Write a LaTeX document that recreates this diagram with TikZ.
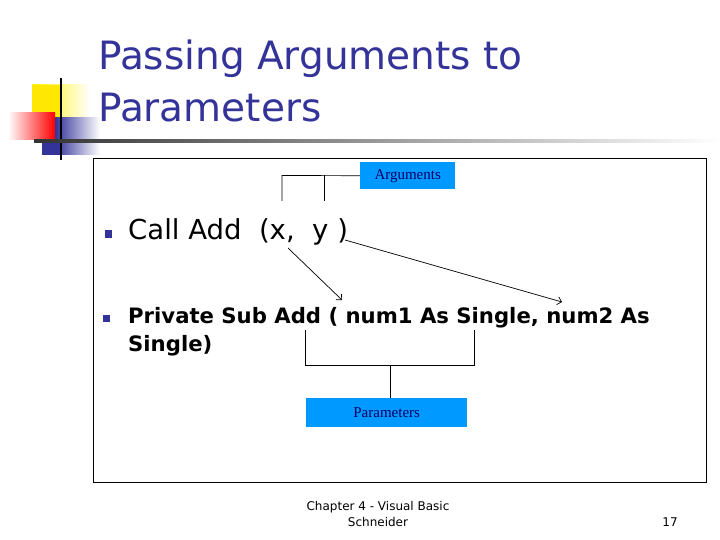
\documentclass[tikz,border=0pt]{standalone}
\usepackage{fontspec}
\setmainfont{DejaVu Sans}
\newfontfamily\serifb{Liberation Serif}
\usetikzlibrary{arrows.meta}
\definecolor{ttl}{RGB}{51,51,153}
\definecolor{lbl}{RGB}{0,153,255}
\definecolor{navy}{RGB}{0,0,102}
\tikzset{lbox/.style={fill=lbl,font=\serifb\fontsize{15}{18}\selectfont,text=navy,inner sep=0pt},
 ln/.style={line width=0.7pt},
 arr/.style={line width=0.7pt,-{Straight Barb[length=4pt]}},
 bul/.style={fill=ttl,minimum size=7pt,inner sep=0pt}}
\begin{document}
\begin{tikzpicture}[x=1pt,y=-1pt]
\useasboundingbox (0,0) rectangle (720,540);
\fill[white] (0,0) rectangle (720,540);
% logo
\shade[left color=yellow!90!orange,right color=white] (32,85) rectangle (90,118);
\fill[yellow!90!orange] (32,85) rectangle (60,118);
\shade[left color=white,right color=red] (8,113) rectangle (55,140);
\shade[left color=ttl,right color=white] (55,118) rectangle (100,155);
\fill[ttl] (42,140) rectangle (60,155);
\draw[line width=1.2pt] (61,78) -- (61,160);
\shade[left color=black!80,right color=white] (34,140) rectangle (720,142.5);
\node[anchor=north west,align=left,text=ttl,font=\fontsize{39}{52}\selectfont,inner sep=0pt] (title) at (98,40) {Passing Arguments to\\Parameters};
\draw[line width=0.8pt] (93,158) rectangle (706,482);
\node[lbox,minimum width=95pt,minimum height=27pt,anchor=north west] (args) at (360,162) {Arguments};
\coordinate (a1) at (282,201); \coordinate (a2) at (324,201);
\draw[ln] (args.west) -- (282,175.5) -- (a1);
\draw[ln] (324,175.5) -- (a2);
\node[bul] (b1) at (108,234) {};
\node[bul] (b2) at (106,318) {};
\node[anchor=base west,inner sep=0pt,font=\fontsize{27.5}{30}\selectfont] (call) at (128,240) {Call Add \ (x, \ y )};
\node[anchor=base west,inner sep=0pt,font=\bfseries\fontsize{21.2}{28}\selectfont] (priv) at (128,323) {Private Sub Add ( num1 As Single, num2 As};
\node[anchor=base west,inner sep=0pt,font=\bfseries\fontsize{21.2}{28}\selectfont] (priv2) at (128,351) {Single)};
\coordinate (x0) at (288,248); \coordinate (x1) at (342,300);
\coordinate (y0) at (345,240); \coordinate (y1) at (562,302);
\draw[arr] (x0) -- (x1);
\draw[arr] (y0) -- (y1);
\node[lbox,minimum width=161pt,minimum height=29pt,anchor=north west] (pars) at (306,398) {Parameters};
\coordinate (pt) at (390,398);
\draw[ln] (305,330) -- (305,365) -- (474,365) -- (474,330);
\draw[ln] (390,365) -- (pt);
\node[align=center,font=\fontsize{12}{16}\selectfont,inner sep=0pt] (foot) at (378,514) {Chapter 4 - Visual Basic\\Schneider};
\node[font=\fontsize{12}{14}\selectfont,inner sep=0pt] (pg) at (670,522) {17};
\end{tikzpicture}
\end{document}
